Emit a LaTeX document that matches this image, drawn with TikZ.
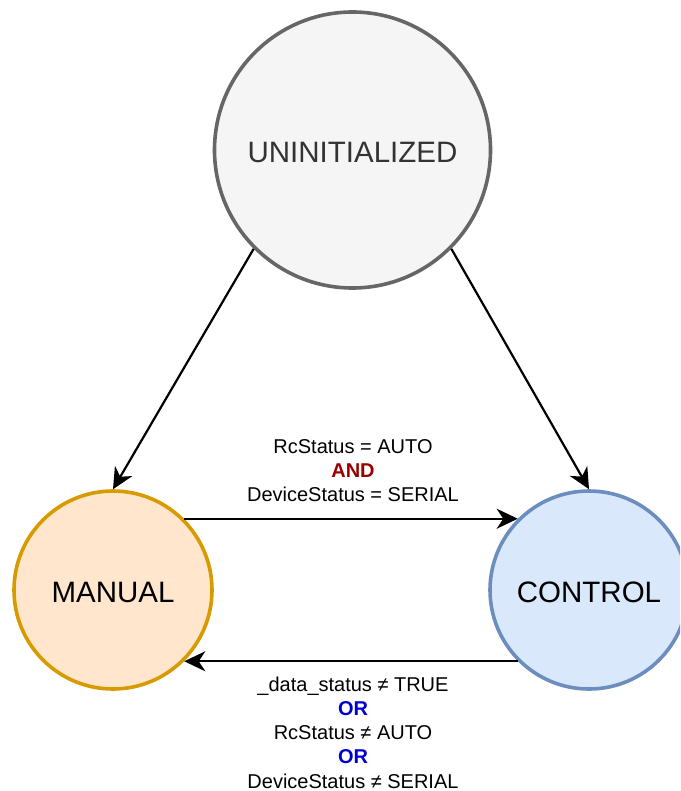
\documentclass[tikz,border=0pt]{standalone}
\usepackage{fontspec}
\setmainfont{Liberation Sans}
\usetikzlibrary{arrows.meta}

\definecolor{uninitFill}{HTML}{F5F5F5}
\definecolor{uninitLine}{HTML}{666666}
\definecolor{uninitText}{HTML}{333333}
\definecolor{manualFill}{HTML}{FFE6CC}
\definecolor{manualLine}{HTML}{D79B00}
\definecolor{controlFill}{HTML}{DAE8FC}
\definecolor{controlLine}{HTML}{6C8EBF}
\definecolor{andRed}{HTML}{990000}
\definecolor{orBlue}{HTML}{0000CC}

\begin{document}
\begin{tikzpicture}[x=1pt,y=-1pt,
  state/.style={circle, line width=3.6pt, inner sep=0pt,
    text height=25pt, text depth=0pt,
    font=\fontsize{29.5}{34}\selectfont},
  trans/.style={line width=2.2pt, -{Stealth[length=21pt,width=20pt,inset=6.5pt]}},
  cond/.style={align=center, inner sep=0pt,
    font=\fontsize{20}{24.3}\selectfont}]

  \useasboundingbox (0,0) rectangle (680,791);
  \clip (0,0) rectangle (680,791);

  % states
  \node[state, draw=uninitLine, fill=uninitFill, text=uninitText,
        minimum size=276pt] (u) at (352.5,150) {UNINITIALIZED};
  \node[state, draw=manualLine, fill=manualFill,
        minimum size=198pt] (m) at (113,590) {MANUAL};
  \node[state, draw=controlLine, fill=controlFill,
        minimum size=198pt] (c) at (589,590) {CONTROL};

  % transitions
  \draw[trans] (u.225) -- (m.north);
  \draw[trans] (u.-45) -- (c.north);
  \draw[trans] (m.45) -- (c.135);
  \draw[trans] (c.225) -- (m.-45);

  % guard conditions
  \node[cond] (toControl) at (353,470.5)
    {RcStatus = AUTO\\
     \textcolor{andRed}{\bfseries AND}\\
     DeviceStatus = SERIAL};
  \node[cond] (toManual) at (353,732.5)
    {\_data\_status ≠ TRUE\\
     \textcolor{orBlue}{\bfseries OR}\\
     RcStatus ≠ AUTO\\
     \textcolor{orBlue}{\bfseries OR}\\
     DeviceStatus ≠ SERIAL};
\end{tikzpicture}
\end{document}
